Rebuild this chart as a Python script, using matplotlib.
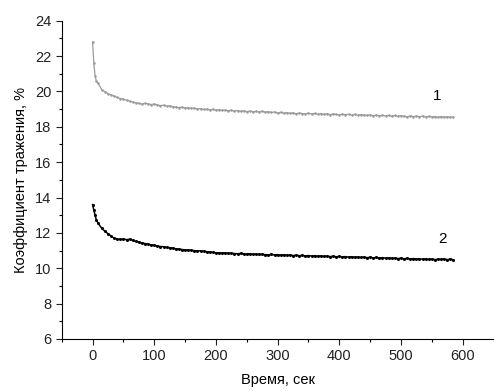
import matplotlib
matplotlib.use("Agg")
import matplotlib.pyplot as plt
from matplotlib.ticker import MultipleLocator

plt.rcParams['font.family'] = ['Liberation Sans', 'DejaVu Sans']

# time, s
early_t = [0, 2, 4, 6, 9]
late_t = list(range(15, 586, 5))
time = early_t + late_t

curve1 = [22.8, 21.6, 20.9, 20.6, 20.45,
          20.10, 19.98, 19.88, 19.80, 19.74, 19.66, 19.60, 19.55, 19.50, 19.45,
          19.40, 19.36, 19.33, 19.28, 19.33, 19.30, 19.26, 19.29, 19.24, 19.20,
          19.22, 19.17, 19.19, 19.14, 19.12, 19.09, 19.11, 19.06, 19.08, 19.04,
          19.05, 19.01, 19.03, 18.98, 19.00, 18.96, 18.99, 18.94, 18.97, 18.93,
          18.95, 18.91, 18.94, 18.89, 18.92, 18.88, 18.90, 18.86, 18.89, 18.85,
          18.87, 18.84, 18.88, 18.83, 18.86, 18.81, 18.84, 18.78, 18.82, 18.77,
          18.80, 18.76, 18.79, 18.74, 18.78, 18.75, 18.72, 18.77, 18.73, 18.76,
          18.71, 18.75, 18.70, 18.74, 18.69, 18.73, 18.70, 18.67, 18.72, 18.68,
          18.71, 18.66, 18.70, 18.65, 18.69, 18.67, 18.64, 18.68, 18.63, 18.67,
          18.62, 18.66, 18.61, 18.65, 18.60, 18.64, 18.59, 18.63, 18.60, 18.56,
          18.62, 18.58, 18.61, 18.57, 18.60, 18.55, 18.59, 18.56, 18.58, 18.54,
          18.58, 18.55, 18.57, 18.54, 18.56]

curve2 = [13.6, 13.3, 13.0, 12.75, 12.55,
          12.25, 12.10, 11.95, 11.82, 11.70, 11.66, 11.63, 11.65, 11.62, 11.64,
          11.58, 11.52, 11.48, 11.43, 11.40, 11.36, 11.32, 11.30, 11.26, 11.23,
          11.22, 11.18, 11.16, 11.14, 11.10, 11.08, 11.06, 11.04, 11.03, 11.01,
          11.00, 10.98, 10.99, 10.96, 10.94, 10.92, 10.90, 10.88, 10.87, 10.86,
          10.87, 10.84, 10.85, 10.83, 10.82, 10.84, 10.81, 10.80, 10.82, 10.79,
          10.80, 10.78, 10.79, 10.77, 10.76, 10.78, 10.75, 10.77, 10.74, 10.76,
          10.73, 10.75, 10.72, 10.74, 10.71, 10.73, 10.70, 10.72, 10.69, 10.71,
          10.68, 10.70, 10.67, 10.69, 10.66, 10.68, 10.65, 10.67, 10.64, 10.66,
          10.63, 10.65, 10.62, 10.64, 10.61, 10.63, 10.60, 10.62, 10.59, 10.61,
          10.58, 10.60, 10.57, 10.59, 10.56, 10.58, 10.55, 10.57, 10.54, 10.56,
          10.53, 10.55, 10.52, 10.54, 10.51, 10.53, 10.50, 10.52, 10.49, 10.51,
          10.50, 10.52, 10.49, 10.51, 10.48]

fig = plt.figure(figsize=(4.94, 3.91), dpi=100)
ax = fig.add_axes([0.125, 0.133, 0.874, 0.814])

ax.plot(time, curve1, color="#9a9a9a", lw=0.9, marker="o", ms=1.8, mew=0)
ax.plot(time, curve2, color="black", lw=1.1, marker="o", ms=2.2, mew=0)

ax.text(559, 19.75, "1", fontsize=11, ha="center", va="center")
ax.text(567, 11.65, "2", fontsize=11, ha="center", va="center")

ax.set_xlim(-50, 650)
ax.set_ylim(6, 24)
ax.xaxis.set_major_locator(MultipleLocator(100))
ax.xaxis.set_minor_locator(MultipleLocator(50))
ax.yaxis.set_major_locator(MultipleLocator(2))
ax.yaxis.set_minor_locator(MultipleLocator(1))
ax.tick_params(which="major", length=4, width=0.8, labelsize=10.5, colors="#222222")
ax.tick_params(which="minor", length=2.5, width=0.8)

ax.spines['top'].set_visible(False)
ax.spines['right'].set_visible(False)

ax.set_xlabel("Время, сек", fontsize=10.5, labelpad=7)
ax.set_ylabel("Коэффициент тражения, %", fontsize=10.5, labelpad=5)

fig.savefig("out.png", dpi=100)
